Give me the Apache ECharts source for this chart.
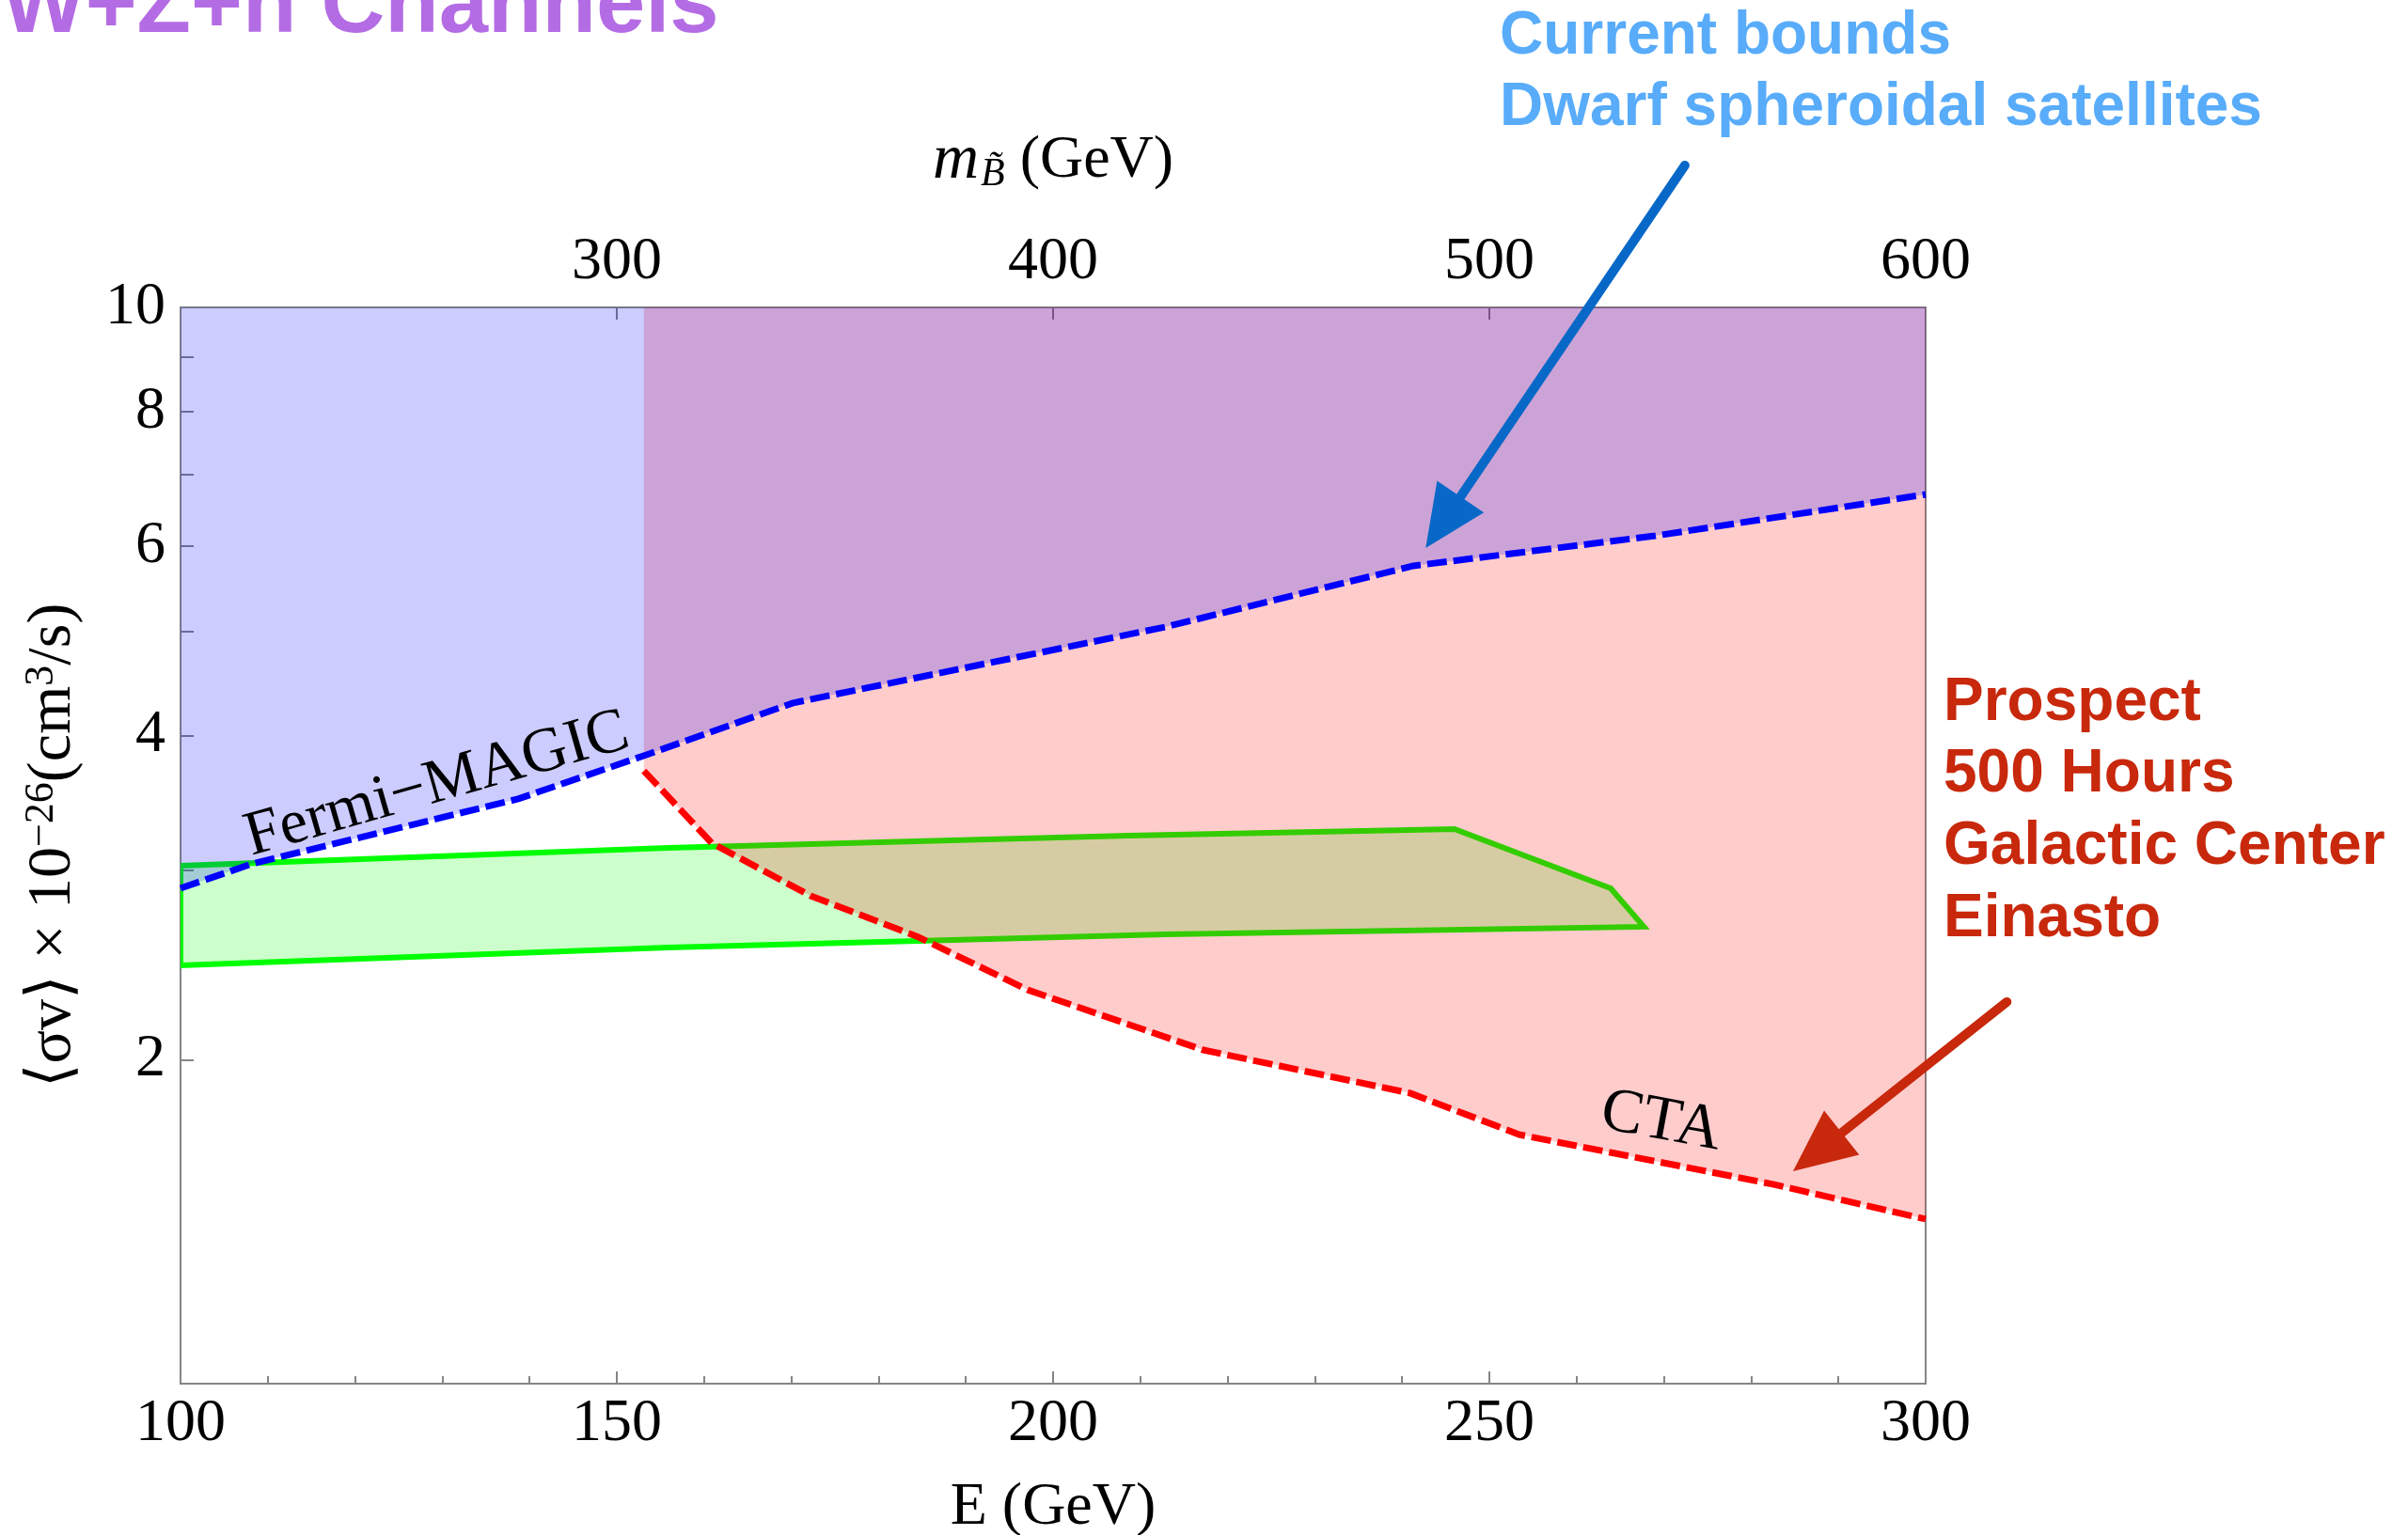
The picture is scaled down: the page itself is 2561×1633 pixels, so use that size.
<!DOCTYPE html>
<html>
<head>
<meta charset="utf-8">
<script src="https://cdn.jsdelivr.net/npm/echarts@6/dist/echarts.min.js"></script>
<style>
html,body{margin:0;padding:0;background:#fff;}
#chart{width:2561px;height:1633px;}
</style>
</head>
<body>
<div id="chart"></div>
<script>
// ---- data ----
// Fermi-MAGIC (current dwarf bound), blue dashed
const energyFermi = [100, 108.2, 138.7, 153.4, 170.2, 212.9, 241.3, 269.0, 300];
const sigmaFermi  = [2.886, 3.041, 3.494, 3.840, 4.290, 5.048, 5.753, 6.134, 6.703];
// CTA prospect (500 h, Galactic Center, Einasto), red dashed
const energyCTA = [153.1, 160.9, 172.2, 184.6, 197.1, 217.2, 240.9, 253.4, 282.5, 300];
const sigmaCTA  = [3.710, 3.178, 2.840, 2.599, 2.322, 2.042, 1.862, 1.704, 1.532, 1.422];
// green region (closed polygon)
const energyGreen = [100, 155.9, 208.6, 246.0, 263.9, 267.7, 212.9, 155.9, 100];
const sigmaGreen  = [3.028, 3.146, 3.230, 3.276, 2.886, 2.658, 2.615, 2.543, 2.447];
// axis ticks / labels
const yTickValues  = [2, 3, 4, 5, 6, 7, 8, 9, 10];
const yLabelValues = [2, 4, 6, 8, 10];
const topLabelValues = [300, 400, 500, 600];
const topTickValues  = [300, 400, 500];
const yTop = 10;
// annotation arrows [tail, tip] in (E, sigma)
const arrowDwarf = [[272.4, 13.55], [242.7, 5.975]];
const arrowCTA   = [[309.3, 2.263], [284.8, 1.575]];
// in-plot labels
const labelFermi = [129.4, 3.60];
const labelCTA   = [269.7, 1.750];

const SERIF = '"Liberation Serif","Times New Roman","DejaVu Serif",serif';
const SANS = '"Liberation Sans",Arial,Helvetica,sans-serif';
const zip = (a, b) => a.map((v, i) => [v, b[i]]);

const fermiPts = zip(energyFermi, sigmaFermi);
const ctaPts = zip(energyCTA, sigmaCTA);
const greenPts = zip(energyGreen, sigmaGreen);
const bluePoly = fermiPts.concat([[energyFermi[energyFermi.length-1], yTop], [energyFermi[0], yTop]]);
const pinkPoly = ctaPts.concat([[energyCTA[energyCTA.length-1], yTop], [energyCTA[0], yTop]]);

function polySeries(pts, fill, stroke, lw, z) {
  return {
    type: 'custom', z: z, clip: true, silent: true,
    data: [pts[0]],
    renderItem: function (params, api) {
      return {
        type: 'polygon',
        shape: { points: pts.map(p => api.coord(p)) },
        style: { fill: fill, stroke: stroke || null, lineWidth: lw || 0, lineJoin: 'miter' }
      };
    }
  };
}

function arrowSeries(pair, color, z) {
  return {
    type: 'custom', z: z, clip: false, silent: true,
    data: [pair[1]],
    renderItem: function (params, api) {
      const a = api.coord(pair[0]), b = api.coord(pair[1]);
      const dx = b[0] - a[0], dy = b[1] - a[1];
      const L = Math.sqrt(dx * dx + dy * dy);
      const ux = dx / L, uy = dy / L, nx = -uy, ny = ux;
      const hl = 66, hw = 30;
      const bx = b[0] - ux * hl, by = b[1] - uy * hl;
      return {
        type: 'group',
        children: [
          { type: 'line', shape: { x1: a[0], y1: a[1], x2: bx + ux * 10, y2: by + uy * 10 },
            style: { stroke: color, lineWidth: 10, lineCap: 'round' } },
          { type: 'polygon', shape: { points: [[b[0], b[1]], [bx + nx * hw, by + ny * hw], [bx - nx * hw, by - ny * hw]] },
            style: { fill: color } }
        ]
      };
    }
  };
}

function textSeries(pos, text, rotDeg, z) {
  return {
    type: 'custom', z: z, clip: false, silent: true,
    data: [pos],
    renderItem: function (params, api) {
      const p = api.coord(pos);
      return {
        type: 'text', x: p[0], y: p[1], rotation: rotDeg * Math.PI / 180,
        style: { text: text, font: '67px ' + SERIF, fill: '#000', align: 'center', verticalAlign: 'middle' }
      };
    }
  };
}

const chart = echarts.init(document.getElementById('chart'), null, { renderer: 'canvas' });
const axisGray = '#858585';
const option = {
  animation: false,
  backgroundColor: '#fff',
  grid: { left: 192, right: 513, top: 327, bottom: 161, containLabel: false, outerBoundsMode: 'none',
          show: true, borderColor: axisGray, borderWidth: 2, backgroundColor: 'transparent' },
  xAxis: [
    {
      type: 'value', position: 'bottom', min: 100, max: 300, interval: 50,
      name: 'E (GeV)', nameLocation: 'middle', nameGap: 100,
      nameTextStyle: { fontFamily: SERIF, fontSize: 64, color: '#000' },
      axisLine: { show: true, lineStyle: { color: axisGray, width: 2 } },
      axisTick: { show: true, inside: true, length: 13, lineStyle: { color: axisGray, width: 2 } },
      minorTick: { show: true, splitNumber: 5, length: 8, lineStyle: { color: axisGray, width: 2 } },
      axisLabel: { fontFamily: SERIF, fontSize: 64, color: '#000', margin: 11 },
      splitLine: { show: false }
    },
    {
      type: 'value', position: 'top', min: 200, max: 600, interval: 100,
      name: '{it|m}{sub|B\u0303} (GeV)', nameLocation: 'middle', nameGap: 120,
      nameTextStyle: {
        fontFamily: SERIF, fontSize: 64, color: '#000',
        rich: {
          it: { fontFamily: SERIF, fontSize: 68, fontStyle: 'italic', color: '#000' },
          sub: { fontFamily: SERIF, fontSize: 42, fontStyle: 'italic', color: '#000', padding: [30, 0, 0, 2] }
        }
      },
      axisLine: { show: true, lineStyle: { color: axisGray, width: 2 } },
      axisTick: { show: true, inside: true, length: 13, customValues: topTickValues, lineStyle: { color: axisGray, width: 2 } },
      axisLabel: { fontFamily: SERIF, fontSize: 64, color: '#000', margin: 16, customValues: topLabelValues },
      splitLine: { show: false }
    }
  ],
  yAxis: {
    type: 'log', logBase: 10, min: 1, max: 10,
    name: '{a|\u27E8\u03C3v\u27E9 \u00D7 10}{sup|\u221226}{a|(cm}{sup|3}{a|/s)}',
    nameLocation: 'middle', nameGap: 100, nameRotate: 90,
    nameTextStyle: {
      fontFamily: SERIF, fontSize: 64, color: '#000',
      rich: {
        a: { fontFamily: SERIF, fontSize: 66, color: '#000' },
        sup: { fontFamily: SERIF, fontSize: 44, color: '#000', padding: [0, 0, 26, 0] }
      }
    },
    axisLine: { show: true, lineStyle: { color: axisGray, width: 2 } },
    axisTick: { show: true, inside: true, length: 14, customValues: yTickValues, lineStyle: { color: axisGray, width: 2 } },
    axisLabel: { fontFamily: SERIF, fontSize: 64, color: '#000', margin: 16, customValues: yLabelValues,
      formatter: v => String(Math.round(v)) },
    splitLine: { show: false }
  },
  series: [
    polySeries(greenPts, 'rgba(0,255,0,0.2)', '#00ff00', 6, 2),
    polySeries(pinkPoly, 'rgba(255,0,0,0.2)', null, 0, 3),
    polySeries(bluePoly, 'rgba(0,0,255,0.2)', null, 0, 4),
    {
      type: 'line', z: 5, data: ctaPts, showSymbol: false, symbol: 'none', silent: true,
      lineStyle: { color: '#ff0000', width: 7, type: [21, 7] }
    },
    {
      type: 'line', z: 5, data: fermiPts, showSymbol: false, symbol: 'none', silent: true,
      lineStyle: { color: '#0000ff', width: 7, type: [21, 7] }
    },
    arrowSeries(arrowDwarf, '#0868c8', 6),
    arrowSeries(arrowCTA, '#c8280c', 6),
    textSeries(labelFermi, 'Fermi\u2212MAGIC', 16, 7),
    textSeries(labelCTA, 'CTA', -10.5, 7)
  ],
  graphic: [
    { type: 'text', x: 2, y: 8, style: { text: 'W+Z+h Channels', font: 'bold 94px ' + SANS, fill: 'rgb(180,108,228)', align: 'left', verticalAlign: 'middle' } },
    { type: 'text', x: 1595, y: 39, style: { text: 'Current bounds', font: 'bold 64px ' + SANS, fill: 'rgb(88,172,250)', align: 'left', verticalAlign: 'middle' } },
    { type: 'text', x: 1595, y: 115, style: { text: 'Dwarf spheroidal satellites', font: 'bold 64px ' + SANS, fill: 'rgb(88,172,250)', align: 'left', verticalAlign: 'middle' } },
    { type: 'text', x: 2067, y: 748, style: { text: 'Prospect', font: 'bold 64px ' + SANS, fill: 'rgb(200,40,12)', align: 'left', verticalAlign: 'middle' } },
    { type: 'text', x: 2067, y: 824, style: { text: '500 Hours', font: 'bold 64px ' + SANS, fill: 'rgb(200,40,12)', align: 'left', verticalAlign: 'middle' } },
    { type: 'text', x: 2067, y: 901, style: { text: 'Galactic Center', font: 'bold 64px ' + SANS, fill: 'rgb(200,40,12)', align: 'left', verticalAlign: 'middle' } },
    { type: 'text', x: 2067, y: 978, style: { text: 'Einasto', font: 'bold 64px ' + SANS, fill: 'rgb(200,40,12)', align: 'left', verticalAlign: 'middle' } }
  ]
};
chart.setOption(option);
</script>
</body>
</html>
